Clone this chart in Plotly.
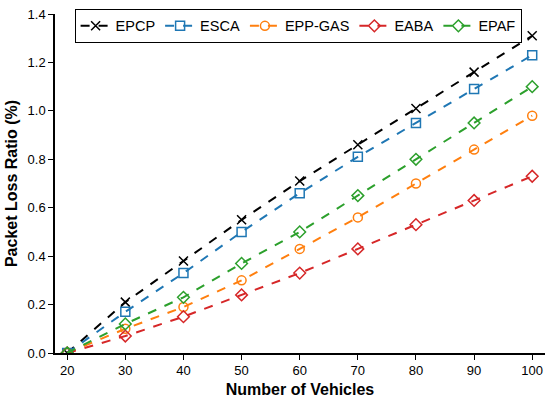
import plotly.graph_objects as go

vehicles = [20, 30, 40, 50, 60, 70, 80, 90, 100]
epcp = [0.0, 0.21, 0.38, 0.55, 0.71, 0.86, 1.01, 1.16, 1.31]
esca = [0.0, 0.17, 0.33, 0.50, 0.66, 0.81, 0.95, 1.09, 1.23]
epp_gas = [0.0, 0.10, 0.19, 0.30, 0.43, 0.56, 0.70, 0.84, 0.98]
eaba = [0.0, 0.07, 0.15, 0.24, 0.33, 0.43, 0.53, 0.63, 0.73]
epaf = [0.0, 0.12, 0.23, 0.37, 0.50, 0.65, 0.80, 0.95, 1.10]

series = [
    ("EPCP", epcp, "black", "x-thin"),
    ("ESCA", esca, "#1f77b4", "square-open"),
    ("EPP-GAS", epp_gas, "#ff7f0e", "circle-open"),
    ("EABA", eaba, "#d62728", "diamond-open"),
    ("EPAF", epaf, "#2ca02c", "diamond-open"),
]

fig = go.Figure()
for name, vals, col, sym in series:
    fig.add_trace(go.Scatter(
        x=vehicles, y=vals, name=name, mode="lines+markers",
        line=dict(color=col, width=2, dash="dash"),
        marker=dict(symbol=sym, size=9, color=col,
                    line=dict(color=col, width=1.5)),
    ))

fig.update_layout(
    width=550, height=401,
    margin=dict(l=55, r=5, t=14, b=45),
    plot_bgcolor="white", paper_bgcolor="white",
    font=dict(family="Liberation Sans, Arial, sans-serif", size=13, color="black"),
    showlegend=True,
    legend=dict(orientation="h", x=0.04, y=1.015, xanchor="left", yanchor="top",
                bordercolor="black", borderwidth=1, bgcolor="white",
                font=dict(size=14.5), itemwidth=30, tracegroupgap=0),
)
fig.update_xaxes(range=[17.9, 102.2], tickvals=vehicles, showline=True,
                 linecolor="black", linewidth=1.5, ticks="outside", ticklen=5,
                 tickcolor="black", showgrid=False, zeroline=False,
                 title=dict(text="<b>Number of Vehicles</b>", standoff=6))
fig.update_yaxes(range=[0, 1.4], dtick=0.2, tickformat=".1f", showline=True,
                 linecolor="black", linewidth=1.5, ticks="outside", ticklen=5,
                 tickcolor="black", showgrid=False, zeroline=False,
                 title=dict(text="<b>Packet Loss Ratio (%)</b>", standoff=6))

# drop the default 8px body margin so the figure sits at the window corner
fig.write_html("out.html", config={"displayModeBar": False},
               post_script="document.body.style.margin='0';")
